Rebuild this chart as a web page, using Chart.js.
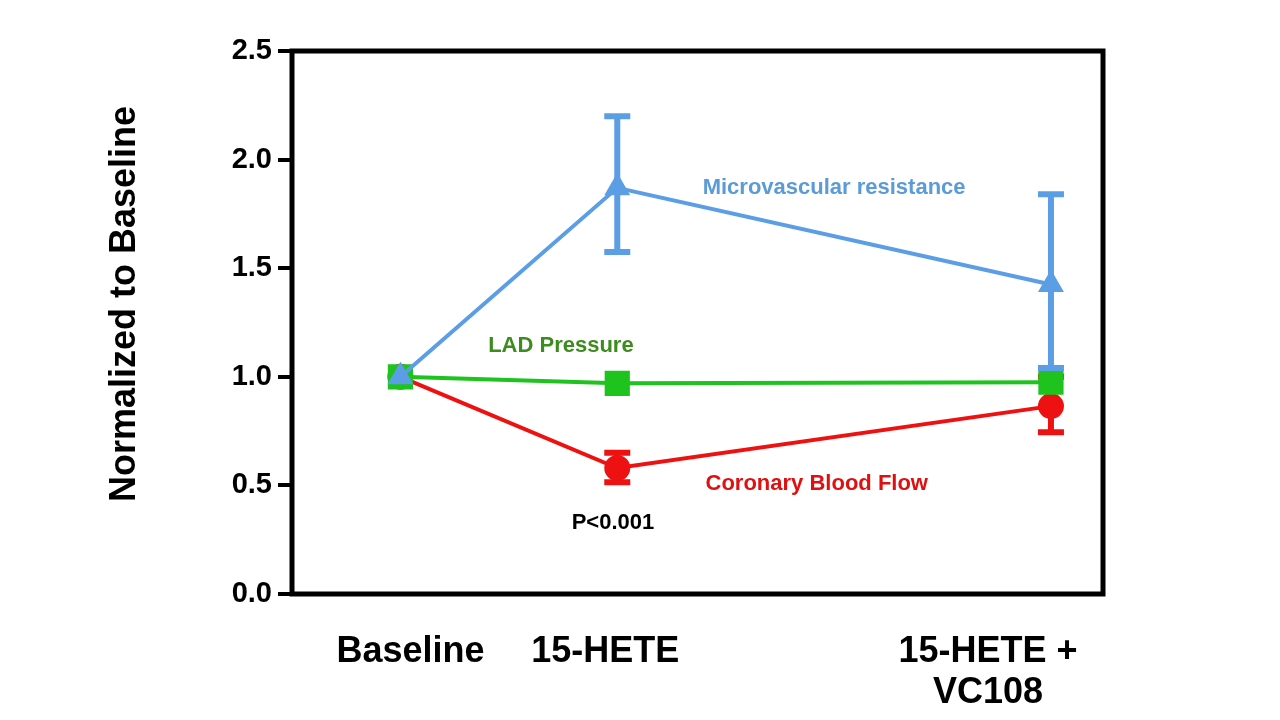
<!DOCTYPE html>
<html>
<head>
<meta charset="utf-8">
<script src="https://cdn.jsdelivr.net/npm/chart.js@4.4.1/dist/chart.umd.min.js"></script>
<style>
  body { margin: 0; background: #fff; }
  #wrap { width: 1280px; height: 720px; }
</style>
</head>
<body>
<div id="wrap"><canvas id="chart"></canvas></div>
<script>
// stages along the x axis (x value = where the point sits)
const stages = ["Baseline", "15-HETE", ["15-HETE +", "VC108"]];
const stageX = [0, 1, 3];

// series values (normalized to baseline)
const resistance = [1.0, 1.87, 1.425];
const resistanceHi = [null, 2.2, 1.84];
const resistanceLo = [null, 1.575, 1.04];

const pressure = [1.0, 0.97, 0.975];

const flow = [1.0, 0.58, 0.865];
const flowHi = [null, 0.65, 1.0];
const flowLo = [null, 0.515, 0.745];

const yTicks = [0, 0.5, 1.0, 1.5, 2.0, 2.5];

// text placed in the plot, in data units
const notes = [
  { text: "Microvascular resistance", x: 2.0, y: 1.87, color: "#5b9bd8" },
  { text: "LAD Pressure", x: 0.74, y: 1.14, color: "#3c8c1e" },
  { text: "Coronary Blood Flow", x: 1.92, y: 0.506, color: "#e01010" },
  { text: "P<0.001", x: 0.98, y: 0.327, color: "#000" }
];

const BLUE = "#5b9ee6";
const GREEN = "#1ec31e";
const RED = "#ee1111";

const toPts = (vals) => vals.map((v, i) => ({ x: stageX[i], y: v }));

// error bars drawn just before each dataset so layering follows dataset order
const errorBars = {
  id: "errorBars",
  beforeDatasetDraw(chart, args) {
    const ds = chart.data.datasets[args.index];
    if (!ds.errHi) return;
    const xs = chart.scales.x, ys = chart.scales.y;
    const ctx = chart.ctx;
    ctx.save();
    ctx.strokeStyle = ds.borderColor;
    ctx.lineWidth = 6;
    ds.errHi.forEach((hi, j) => {
      if (hi == null) return;
      const px = xs.getPixelForValue(stageX[j]);
      const top = ys.getPixelForValue(hi);
      const bot = ys.getPixelForValue(ds.errLo[j]);
      ctx.beginPath();
      ctx.moveTo(px, top); ctx.lineTo(px, bot);
      ctx.moveTo(px - 13, top); ctx.lineTo(px + 13, top);
      ctx.moveTo(px - 13, bot); ctx.lineTo(px + 13, bot);
      ctx.stroke();
    });
    ctx.restore();
  }
};

const frameAndText = {
  id: "frameAndText",
  beforeDatasetsDraw(chart) {
    const a = chart.chartArea, ctx = chart.ctx;
    ctx.save();
    ctx.strokeStyle = "#000";
    ctx.lineWidth = 5;
    ctx.strokeRect(a.left, a.top, a.right - a.left, a.bottom - a.top);
    ctx.restore();
  },
  afterDraw(chart) {
    const ctx = chart.ctx, xs = chart.scales.x, ys = chart.scales.y;
    ctx.save();
    ctx.textAlign = "center";
    ctx.textBaseline = "middle";

    // annotations
    ctx.font = "bold 22px 'Liberation Sans', Arial, sans-serif";
    notes.forEach(n => {
      ctx.fillStyle = n.color;
      ctx.fillText(n.text, xs.getPixelForValue(n.x), ys.getPixelForValue(n.y));
    });

    // x stage labels (slightly nudged off the point column like the original)
    const nudge = [10, -12, -63];
    ctx.fillStyle = "#000";
    ctx.font = "bold 36px 'Liberation Sans', Arial, sans-serif";
    stages.forEach((s, i) => {
      const lines = Array.isArray(s) ? s : [s];
      const px = xs.getPixelForValue(stageX[i]) + nudge[i];
      lines.forEach((ln, k) => ctx.fillText(ln, px, 652 + k * 41));
    });

    // y title
    ctx.translate(125, 304);
    ctx.rotate(-Math.PI / 2);
    ctx.font = "bold 36px 'Liberation Sans', Arial, sans-serif";
    ctx.fillText("Normalized to Baseline", 0, 0);
    ctx.restore();
  }
};

new Chart(document.getElementById("chart"), {
  type: "line",
  data: {
    datasets: [
      {
        label: "Microvascular resistance",
        data: toPts(resistance),
        errHi: resistanceHi,
        errLo: resistanceLo,
        borderColor: BLUE,
        backgroundColor: BLUE,
        borderWidth: 4,
        pointStyle: "triangle",
        pointRadius: 11,
        order: 1
      },
      {
        label: "LAD Pressure",
        data: toPts(pressure),
        borderColor: GREEN,
        backgroundColor: GREEN,
        borderWidth: 4,
        pointStyle: "rect",
        pointRadius: 15,
        order: 2
      },
      {
        label: "Coronary Blood Flow",
        data: toPts(flow),
        errHi: flowHi,
        errLo: flowLo,
        borderColor: RED,
        backgroundColor: RED,
        borderWidth: 4,
        pointStyle: "circle",
        pointRadius: 11,
        order: 3
      }
    ]
  },
  options: {
    responsive: true,
    maintainAspectRatio: false,
    animation: false,
    layout: { padding: { left: 0, top: 51, right: 177, bottom: 126 } },
    plugins: {
      legend: { display: false },
      tooltip: { enabled: false }
    },
    elements: { line: { tension: 0 }, point: { borderWidth: 0 } },
    scales: {
      x: {
        type: "linear",
        display: false,
        min: -0.5,
        max: 3.24
      },
      y: {
        min: 0,
        max: 2.5,
        afterFit(scale) { scale.width = 292; },
        afterBuildTicks(scale) { scale.ticks = yTicks.map(v => ({ value: v })); },
        border: { display: false },
        grid: {
          drawOnChartArea: false,
          drawTicks: true,
          tickLength: 14,
          color: "#000",
          lineWidth: 4
        },
        ticks: {
          color: "#000",
          padding: 6,
          font: { family: "'Liberation Sans', Arial, sans-serif", size: 29, weight: "bold" },
          callback: (v) => Number(v).toFixed(1)
        }
      }
    }
  },
  plugins: [errorBars, frameAndText]
});
</script>
</body>
</html>
